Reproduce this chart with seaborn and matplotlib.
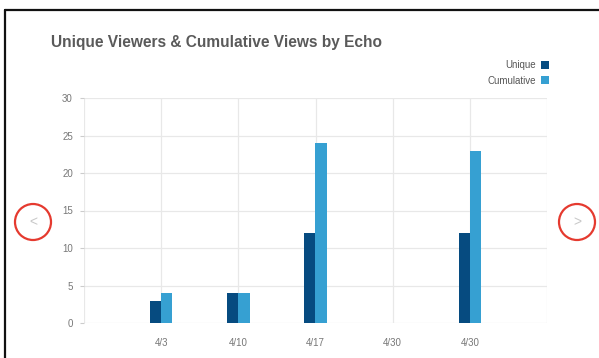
import matplotlib
matplotlib.use("Agg")
import matplotlib.pyplot as plt
from matplotlib.patches import Circle
from matplotlib.lines import Line2D
import seaborn as sns
import pandas as pd

weeks = ["w1", "w2", "w3", "w4", "w5"]
tick_labels = ["4/3", "4/10", "4/17", "4/30", "4/30"]
unique = [3, 4, 12, 0, 12]
cumulative = [4, 4, 24, 0, 23]
series = ["Unique", "Cumulative"]
colors = ["#064b80", "#36a0d2"]

df = pd.DataFrame({
    "week": weeks * 2,
    "series": [series[0]] * len(weeks) + [series[1]] * len(weeks),
    "views": unique + cumulative,
})

sns.set_style("white")
plt.rcParams["font.family"] = ["Liberation Sans", "DejaVu Sans"]

fig = plt.figure(figsize=(5.99, 3.58), dpi=100)
ax = fig.add_axes([84 / 599, 1 - 323 / 358, (547 - 84) / 599, (323 - 98) / 358])

sns.barplot(data=df, x="week", y="views", hue="series", order=weeks,
            hue_order=series, palette=colors, width=0.29, gap=0,
            saturation=1, linewidth=0, ax=ax, legend=True)

ax.set_xlim(-1, len(weeks))
ax.set_ylim(0, 30)
ax.set_yticks(range(0, 31, 5))
ax.set_xticks(range(-1, len(weeks) + 1))
ax.set_xticklabels([""] + tick_labels + [""])
ax.grid(True, color="#e8e8e8", linewidth=0.9)
ax.set_axisbelow(True)
for s in ax.spines.values():
    s.set_visible(False)
ax.set_xlabel("")
ax.set_ylabel("")
ax.tick_params(axis="y", length=3, color="#cccccc", pad=5, labelsize=7, labelcolor="#777777", left=True)
ax.tick_params(axis="x", length=0, pad=11, labelsize=7, labelcolor="#777777")

handles, labels = ax.get_legend_handles_labels()
ax.legend(handles, labels, loc="upper right", bbox_to_anchor=(1.012, 1.185),
          frameon=False, markerfirst=False, fontsize=7, labelcolor="#555555",
          handlelength=0.8, handleheight=0.9, handletextpad=0.5, labelspacing=0.55,
          borderaxespad=0)

fig.text(51 / 599, 1 - 42 / 358, "Unique Viewers & Cumulative Views by Echo",
         fontsize=11.2, fontweight="bold", color="#5a5a5a", va="center", ha="left")

# screenshot decorations: frame and navigation circles
deco = fig.add_axes([0, 0, 1, 1], zorder=-1)
deco.set_xlim(0, 599)
deco.set_ylim(358, 0)
deco.axis("off")
deco.add_line(Line2D([5, 5], [10, 358], color="#111111", linewidth=1.6))
deco.add_line(Line2D([5, 599], [10, 10], color="#111111", linewidth=1.6))
for cx, ch in [(33, "<"), (577, ">")]:
    deco.add_patch(Circle((cx, 222), 18, fill=False, edgecolor="#e53a2f", linewidth=1.6))
    deco.text(cx, 222, ch, ha="center", va="center", fontsize=10, color="#c8c8c8")

fig.savefig("out.png", dpi=100)
